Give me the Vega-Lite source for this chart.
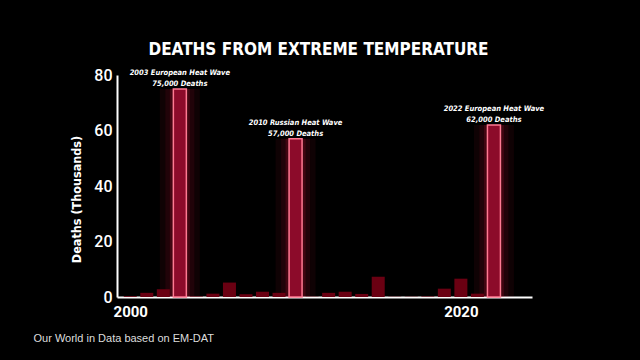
{
  "$schema": "https://vega.github.io/schema/vega-lite/v6.json",
  "autosize": {"type": "none"},
  "width": 415,
  "height": 222,
  "padding": {"left": 117, "top": 75, "right": 108, "bottom": 63},
  "background": "#000000",
  "title": {
    "text": "DEATHS FROM EXTREME TEMPERATURE",
    "font": "DejaVu Sans Condensed, Liberation Sans Narrow, Roboto",
    "fontSize": 17,
    "fontWeight": "bold",
    "color": "#ffffff",
    "anchor": "middle",
    "dx": -6,
    "offset": 8
  },
  "config": {
    "view": {"stroke": null},
    "axis": {"grid": false, "ticks": false, "domainColor": "#ffffff", "domainWidth": 2}
  },
  "data": {
    "values": [
      {"year": 2000, "deaths": 0.3, "label": ""},
      {"year": 2001, "deaths": 1.5, "label": ""},
      {"year": 2002, "deaths": 2.8, "label": ""},
      {"year": 2003, "deaths": 75, "label": "2003 European Heat Wave\n75,000 Deaths"},
      {"year": 2004, "deaths": 0.2, "label": ""},
      {"year": 2005, "deaths": 1.2, "label": ""},
      {"year": 2006, "deaths": 5.2, "label": ""},
      {"year": 2007, "deaths": 1.0, "label": ""},
      {"year": 2008, "deaths": 1.9, "label": ""},
      {"year": 2009, "deaths": 1.5, "label": ""},
      {"year": 2010, "deaths": 57, "label": "2010 Russian Heat Wave\n57,000 Deaths"},
      {"year": 2011, "deaths": 0.1, "label": ""},
      {"year": 2012, "deaths": 1.5, "label": ""},
      {"year": 2013, "deaths": 1.9, "label": ""},
      {"year": 2014, "deaths": 1.1, "label": ""},
      {"year": 2015, "deaths": 7.3, "label": ""},
      {"year": 2016, "deaths": 0.1, "label": ""},
      {"year": 2017, "deaths": 0.1, "label": ""},
      {"year": 2018, "deaths": 0.2, "label": ""},
      {"year": 2019, "deaths": 3.0, "label": ""},
      {"year": 2020, "deaths": 6.6, "label": ""},
      {"year": 2021, "deaths": 1.2, "label": ""},
      {"year": 2022, "deaths": 62, "label": "2022 European Heat Wave\n62,000 Deaths"}
    ]
  },
  "encoding": {
    "x": {
      "field": "year",
      "type": "quantitative",
      "scale": {"domain": [1999.5, 2024], "nice": false, "zero": false},
      "axis": {
        "values": [2000, 2020],
        "format": "d",
        "labelFlush": false,
        "labelFontSize": 15,
        "labelFontWeight": "bold",
        "labelFont": "Roboto, Liberation Sans, sans-serif",
        "labelColor": "#ffffff",
        "labelPadding": 7,
        "title": "Our World in Data based on EM-DAT",
        "titleFont": "Liberation Sans, Arial, sans-serif",
        "titleFontSize": 11,
        "titleFontWeight": "normal",
        "titleColor": "#dddddd",
        "titleAnchor": "start",
        "titleAlign": "left",
        "titleBaseline": "alphabetic",
        "titleX": -84,
        "titleY": 44
      }
    },
    "y": {
      "field": "deaths",
      "type": "quantitative",
      "scale": {"domain": [0, 80], "nice": false},
      "axis": {
        "values": [0, 20, 40, 60, 80],
        "labelFontSize": 16,
        "labelFont": "Roboto, Liberation Sans, sans-serif",
        "labelFontWeight": 500,
        "labelColor": "#ffffff",
        "labelPadding": 5,
        "title": "Deaths (Thousands)",
        "titleFont": "DejaVu Sans Condensed, Liberation Sans Narrow, Roboto",
        "titleFontSize": 12.5,
        "titleFontWeight": "bold",
        "titleColor": "#ffffff",
        "titleAngle": -90,
        "titleAlign": "center",
        "titleBaseline": "middle",
        "titleX": -41,
        "titleY": 124
      }
    }
  },
  "layer": [
    {
      "transform": [{"filter": "datum.deaths > 20"}],
      "mark": {"type": "bar", "size": 40, "color": "#ff1a4a", "opacity": 0.06},
      "encoding": {}
    },
    {
      "transform": [{"filter": "datum.deaths > 20"}],
      "mark": {"type": "bar", "size": 29, "color": "#ff1a4a", "opacity": 0.08},
      "encoding": {}
    },
    {
      "transform": [{"filter": "datum.deaths > 20"}],
      "mark": {"type": "bar", "size": 20, "color": "#ff1a4a", "opacity": 0.14},
      "encoding": {}
    },
    {
      "transform": [{"filter": "datum.deaths <= 20"}],
      "mark": {"type": "bar", "size": 13, "color": "#6a0012"},
      "encoding": {}
    },
    {
      "transform": [{"filter": "datum.deaths > 20"}],
      "mark": {"type": "bar", "size": 13, "fill": "#8c0b2a", "stroke": "#ff7a92", "strokeWidth": 1.5},
      "encoding": {}
    },
    {
      "transform": [{"filter": "datum.deaths > 20"}],
      "mark": {
        "type": "text",
        "baseline": "bottom",
        "lineBreak": "\n",
        "lineHeight": 11,
        "dy": -12,
        "font": "DejaVu Sans Condensed, Liberation Sans Narrow, Roboto",
        "fontSize": 7.5,
        "fontStyle": "italic",
        "fontWeight": "bold",
        "color": "#ffffff"
      },
      "encoding": {"text": {"field": "label"}}
    }
  ]
}
